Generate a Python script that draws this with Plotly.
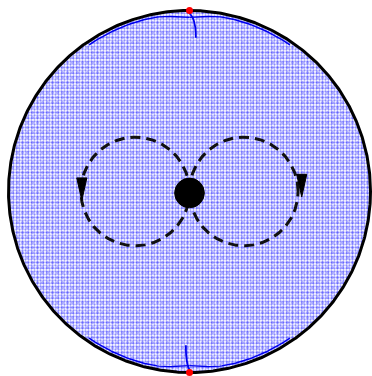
import numpy as np
import plotly.graph_objects as go

# ---- chart values (unit disc, radius 1) ----
vortex_x = [-0.30, 0.30]          # centres of the two dashed circulation loops
vortex_y = [0.0, 0.0]
loop_radius = [0.30, 0.30]
arrow_x = [-0.595, 0.62]          # arrow tips on the loops (pointing down)
arrow_y = [-0.05, -0.03]
stag_x = [0.0, 0.0]               # red stagnation points on the wall
stag_y = [1.0, -1.0]
stem_x = [0.035, -0.02]           # inner ends of the manifold stems
stem_end = [0.85, -0.85]
rod_radius = 0.082                # central black rod

# figure geometry
W, H = 372, 376
S = 181.0                         # pixels per unit
CX, CY = 189.5, 191.5             # pixel centre of the disc

xr = [-CX / S, (W - CX) / S]
yr = [-(H - CY) / S, CY / S]

fig = go.Figure()

t = np.linspace(0, 2 * np.pi, 721)

# dotted (mixed) fluid region: superposed dot lattices give an irregular stipple
for shp, sz, sol, op, bg in [(".", 3, 0.45, 0.45, "white"),
                             (".", 5, 0.30, 0.28, None)]:
    fp = dict(shape=shp, size=sz, solidity=sol, fgcolor="#0000ff", fgopacity=op)
    if bg:
        fp["bgcolor"] = bg
    fig.add_trace(go.Scatter(
        x=0.995 * np.cos(t), y=0.995 * np.sin(t), mode="lines",
        line=dict(width=0, color="rgba(0,0,0,0)"),
        fill="toself", fillcolor="rgba(0,0,0,0)", fillpattern=fp,
        hoverinfo="skip", showlegend=False))

# manifold lines near the stagnation points
for sx0, se, sy in zip(stem_x, stem_end, stag_y):
    sgn = 1 if sy > 0 else -1
    fig.add_trace(go.Scatter(x=[0.0, sx0 * 0.5, sx0 * 0.9, sx0],
                             y=[sy * 0.985, sgn * 0.96, sgn * 0.91, se],
                             mode="lines", line=dict(color="#0000ee", width=1.8),
                             line_shape="spline", hoverinfo="skip", showlegend=False))
    for side in (1, -1):
        a = np.linspace(np.pi / 2, np.pi / 2 - side * 0.6, 60)
        r = 0.982 - 0.02 * np.exp(-((a - np.pi / 2) / 0.12) ** 2)
        fig.add_trace(go.Scatter(x=r * np.cos(a), y=sgn * r * np.sin(a), mode="lines",
                                 line=dict(color="#0000ee", width=1.4),
                                 hoverinfo="skip", showlegend=False))

# dashed circulation loops
for vx, vy, lr in zip(vortex_x, vortex_y, loop_radius):
    fig.add_trace(go.Scatter(x=vx + lr * np.cos(t), y=vy + lr * np.sin(t), mode="lines",
                             line=dict(color="#111111", width=3, dash="10px,6px"),
                             hoverinfo="skip", showlegend=False))

# arrow heads
aw, ah = 0.028, 0.125
for ax_, ay_ in zip(arrow_x, arrow_y):
    fig.add_trace(go.Scatter(x=[ax_ - aw, ax_ + aw, ax_, ax_ - aw],
                             y=[ay_ + ah, ay_ + ah, ay_, ay_ + ah],
                             mode="lines", fill="toself", fillcolor="black",
                             line=dict(color="black", width=1),
                             hoverinfo="skip", showlegend=False))

# outer wall
fig.add_trace(go.Scatter(x=np.cos(t), y=np.sin(t), mode="lines",
                         line=dict(color="black", width=3),
                         hoverinfo="skip", showlegend=False))

# central rod
fig.add_shape(type="circle", xref="x", yref="y",
              x0=-rod_radius, x1=rod_radius, y0=-rod_radius - 0.008, y1=rod_radius - 0.008,
              fillcolor="black", line=dict(color="black", width=1))

# stagnation points
fig.add_trace(go.Scatter(x=stag_x, y=stag_y, mode="markers",
                         marker=dict(color="#ff0000", size=7),
                         cliponaxis=False,
                         hoverinfo="skip", showlegend=False))

fig.update_layout(width=W, height=H, margin=dict(l=0, r=0, t=0, b=0),
                  paper_bgcolor="white", plot_bgcolor="white", showlegend=False)
fig.update_xaxes(range=xr, visible=False, showgrid=False, zeroline=False)
fig.update_yaxes(range=yr, visible=False, showgrid=False, zeroline=False)
fig.write_html("out.html", config={"displayModeBar": False},
               post_script="document.body.style.margin='0px';document.body.style.overflow='hidden';")
